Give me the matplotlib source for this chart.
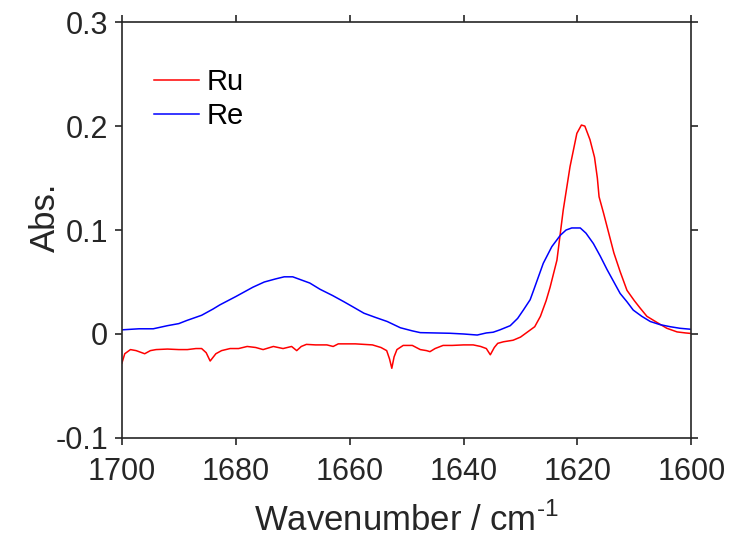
import numpy as np
import matplotlib
matplotlib.use("Agg")
import matplotlib.pyplot as plt

plt.rcParams['font.family'] = ['Liberation Sans', 'DejaVu Sans']
plt.rcParams['mathtext.fontset'] = 'custom'
plt.rcParams['mathtext.rm'] = 'Liberation Sans'
plt.rcParams['axes.unicode_minus'] = False

# Ru spectrum (wavenumber, absorbance)
ru_wn = [1700.0, 1699.5, 1698.5, 1697.5, 1696.0, 1695.0, 1694.0, 1692.0, 1690.0, 1688.5,
         1687.0, 1686.0, 1685.2, 1684.5, 1683.5, 1682.5, 1681.0, 1679.5, 1678.0, 1676.5,
         1675.2, 1674.0, 1673.4, 1671.7, 1670.2, 1669.3, 1668.5, 1667.6, 1666.0, 1664.0,
         1662.9, 1662.0, 1660.5, 1659.0, 1657.5, 1656.0, 1654.5, 1653.5, 1653.0, 1652.6,
         1652.2, 1651.7, 1650.6, 1649.0, 1647.6, 1646.5, 1645.9, 1645.0, 1643.6, 1642.0,
         1640.0, 1638.3, 1637.0, 1636.0, 1635.3, 1634.6, 1634.0, 1633.0, 1631.3, 1630.0,
         1628.5, 1627.5, 1626.5, 1625.5, 1624.8, 1623.6, 1622.5, 1621.3, 1620.1, 1619.3,
         1618.7, 1617.8, 1617.0, 1616.5, 1616.2, 1615.4, 1614.5, 1613.6, 1612.5, 1611.3,
         1610.0, 1609.0, 1607.8, 1606.0, 1604.3, 1602.5, 1601.0, 1600.0]
ru_abs = [-0.028, -0.019, -0.015, -0.016, -0.019, -0.016, -0.015, -0.0145, -0.015, -0.015,
          -0.014, -0.014, -0.018, -0.026, -0.019, -0.016, -0.014, -0.014, -0.012, -0.013,
          -0.015, -0.013, -0.012, -0.014, -0.012, -0.016, -0.012, -0.010, -0.0105, -0.0105,
          -0.012, -0.0095, -0.0095, -0.0095, -0.010, -0.0105, -0.013, -0.016, -0.024, -0.033,
          -0.022, -0.015, -0.011, -0.011, -0.015, -0.016, -0.017, -0.014, -0.011, -0.011,
          -0.0105, -0.0105, -0.012, -0.014, -0.020, -0.013, -0.009, -0.0075, -0.006, -0.003,
          0.003, 0.007, 0.017, 0.032, 0.045, 0.071, 0.119, 0.161, 0.193, 0.201,
          0.200, 0.187, 0.170, 0.150, 0.132, 0.116, 0.097, 0.078, 0.060, 0.042,
          0.032, 0.025, 0.017, 0.011, 0.0055, 0.002, 0.001, 0.0005]

# Re spectrum
re_wn = [1700.0, 1697.0, 1694.5, 1692.0, 1690.0, 1688.6, 1686.0, 1684.0, 1682.8, 1680.0,
         1677.0, 1675.0, 1673.0, 1671.5, 1670.0, 1669.0, 1667.0, 1665.2, 1663.0, 1661.0,
         1659.4, 1657.5, 1655.5, 1653.4, 1651.1, 1649.0, 1647.6, 1645.0, 1642.4, 1640.0,
         1637.6, 1636.0, 1634.8, 1633.6, 1631.8, 1630.5, 1629.5, 1628.3, 1627.7, 1626.0,
         1624.5, 1623.0, 1622.0, 1621.0, 1619.5, 1618.5, 1617.2, 1616.0, 1614.8, 1613.6,
         1612.5, 1611.3, 1610.2, 1608.7, 1607.2, 1605.5, 1603.7, 1602.0, 1600.0]
re_abs = [0.004, 0.005, 0.005, 0.008, 0.010, 0.013, 0.018, 0.024, 0.028, 0.036,
          0.045, 0.050, 0.053, 0.055, 0.055, 0.053, 0.049, 0.043, 0.037, 0.031,
          0.026, 0.020, 0.016, 0.012, 0.006, 0.003, 0.0013, 0.001, 0.0007, 0.000,
          -0.001, 0.001, 0.0017, 0.004, 0.008, 0.015, 0.023, 0.033, 0.042, 0.068,
          0.084, 0.095, 0.100, 0.102, 0.102, 0.097, 0.087, 0.075, 0.062, 0.050,
          0.039, 0.031, 0.023, 0.017, 0.012, 0.009, 0.007, 0.0055, 0.0045]

xticks = [1700, 1680, 1660, 1640, 1620, 1600]
yticks = [-0.1, 0, 0.1, 0.2, 0.3]
ytick_labels = ['-0.1', '0', '0.1', '0.2', '0.3']

fig = plt.figure(figsize=(7.3, 5.4), dpi=100)
ax = fig.add_axes([0.167, 0.189, 0.780, 0.770])

ax.plot(ru_wn, ru_abs, color='#ff0000', lw=1.1, label='Ru')
ax.plot(re_wn, re_abs, color='#0000ff', lw=1.1, label='Re')

ax.set_xlim(1700, 1600)
ax.set_ylim(-0.1, 0.3)
ax.set_xticks(xticks)
ax.set_xticklabels([str(t) for t in xticks])
ax.set_yticks(yticks)
ax.set_yticklabels(ytick_labels)

axcol = '#262626'
for sp in ax.spines.values():
    sp.set_color(axcol)
    sp.set_linewidth(1.2)
ax.tick_params(direction='out', length=5, width=1.2, color=axcol, labelcolor=axcol,
               labelsize=22, top=True, right=True)
ax.tick_params(axis='x', pad=9)
ax.tick_params(axis='y', pad=5)

ax.set_xlabel('Wavenumber / cm$^{\\text{-1}}$', fontsize=25, color=axcol, labelpad=11)
ax.set_ylabel('Abs.', fontsize=25, color=axcol)
ax.yaxis.set_label_coords(-0.105, 0.531)

ax.legend(loc='upper left', bbox_to_anchor=(0.01, 0.953), frameon=False, fontsize=21,
          handlelength=1.55, handletextpad=0.25, labelspacing=0.2)

plt.savefig('out.png', dpi=100)
